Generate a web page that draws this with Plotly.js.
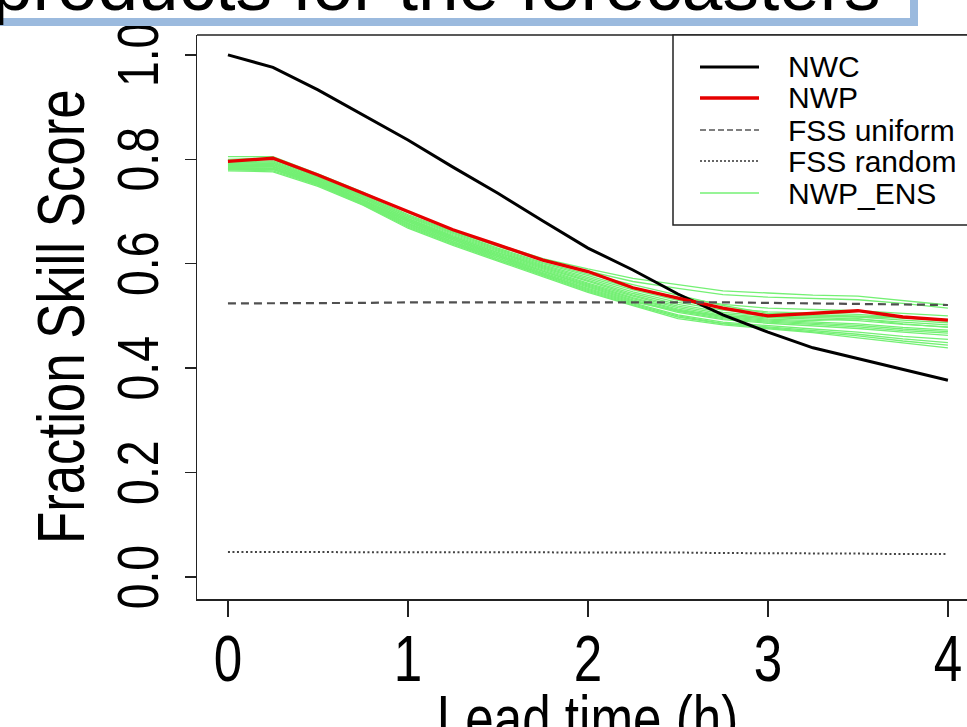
<!DOCTYPE html>
<html>
<head>
<meta charset="utf-8">
<script src="https://cdn.plot.ly/plotly-3.0.1.min.js"></script>
<style>html,body{margin:0;padding:0;background:#fff;}#chart{width:967px;height:727px;}</style>
</head>
<body>
<div id="chart"></div>
<script>
// ---------------- data ----------------
const leadTime = [0,0.25,0.5,0.75,1,1.25,1.5,1.75,2,2.25,2.5,2.75,3,3.25,3.5,3.75,4];
const nwc = [1.000,0.976,0.933,0.885,0.837,0.785,0.735,0.682,0.630,0.588,0.542,0.502,0.469,0.439,0.418,0.397,0.377];
const nwp = [0.796,0.802,0.770,0.735,0.700,0.665,0.636,0.607,0.585,0.554,0.534,0.515,0.500,0.505,0.510,0.498,0.492];
const fssUniform = [0.524,0.524,0.525,0.525,0.526,0.526,0.527,0.527,0.527,0.527,0.526,0.526,0.525,0.524,0.523,0.522,0.521];
const fssRandom = [0.048,0.048,0.048,0.048,0.048,0.048,0.048,0.048,0.047,0.047,0.047,0.046,0.046,0.045,0.045,0.044,0.044];

const ens01 = [0.805,0.805,0.772,0.737,0.698,0.665,0.637,0.610,0.590,0.572,0.560,0.548,0.544,0.540,0.538,0.530,0.521];
const ens02 = [0.800,0.803,0.768,0.733,0.694,0.662,0.633,0.606,0.586,0.566,0.553,0.541,0.536,0.533,0.531,0.524,0.515];
const ens03 = [0.798,0.800,0.766,0.731,0.692,0.660,0.630,0.602,0.580,0.560,0.540,0.520,0.505,0.502,0.500,0.497,0.490];
const ens04 = [0.795,0.797,0.765,0.729,0.690,0.658,0.628,0.600,0.577,0.553,0.536,0.522,0.515,0.512,0.510,0.505,0.500];
const ens05 = [0.793,0.795,0.763,0.728,0.689,0.656,0.626,0.598,0.574,0.550,0.530,0.515,0.508,0.506,0.503,0.497,0.492];
const ens06 = [0.792,0.793,0.762,0.726,0.687,0.654,0.624,0.596,0.571,0.546,0.526,0.511,0.503,0.501,0.498,0.492,0.487];
const ens07 = [0.790,0.792,0.760,0.725,0.686,0.652,0.622,0.594,0.568,0.543,0.522,0.507,0.500,0.497,0.494,0.488,0.483];
const ens08 = [0.789,0.790,0.759,0.723,0.684,0.651,0.621,0.592,0.566,0.540,0.519,0.504,0.497,0.494,0.491,0.484,0.479];
const ens09 = [0.788,0.789,0.758,0.722,0.683,0.649,0.619,0.590,0.563,0.538,0.516,0.501,0.494,0.491,0.495,0.485,0.478];
const ens10 = [0.787,0.787,0.757,0.721,0.681,0.648,0.617,0.588,0.561,0.535,0.513,0.499,0.492,0.489,0.485,0.478,0.473];
const ens11 = [0.786,0.786,0.756,0.720,0.680,0.646,0.616,0.586,0.559,0.533,0.511,0.497,0.490,0.486,0.482,0.475,0.470];
const ens12 = [0.785,0.785,0.755,0.719,0.678,0.645,0.614,0.585,0.557,0.531,0.509,0.495,0.488,0.484,0.479,0.472,0.467];
const ens13 = [0.784,0.783,0.754,0.717,0.677,0.643,0.613,0.583,0.555,0.529,0.507,0.493,0.486,0.481,0.476,0.469,0.463];
const ens14 = [0.783,0.782,0.753,0.716,0.676,0.642,0.611,0.581,0.553,0.527,0.510,0.500,0.497,0.498,0.499,0.496,0.493];
const ens15 = [0.782,0.781,0.752,0.715,0.674,0.640,0.610,0.580,0.551,0.525,0.502,0.488,0.481,0.475,0.469,0.461,0.455];
const ens16 = [0.781,0.780,0.751,0.714,0.672,0.639,0.608,0.578,0.549,0.523,0.500,0.486,0.479,0.472,0.465,0.456,0.449];
const ens17 = [0.780,0.778,0.750,0.713,0.670,0.637,0.607,0.577,0.547,0.521,0.498,0.485,0.477,0.470,0.462,0.452,0.444];
const ens18 = [0.778,0.776,0.748,0.712,0.668,0.635,0.605,0.575,0.545,0.520,0.495,0.483,0.475,0.468,0.458,0.448,0.439];
const ensembleMembers = [ens01,ens02,ens03,ens04,ens05,ens06,ens07,ens08,ens09,ens10,ens11,ens12,ens13,ens14,ens15,ens16,ens17,ens18];

const xTickVals = [0,1,2,3,4];
const xTickText = ['0','1','2','3','4'];
const yTickVals = [0,0.2,0.4,0.6,0.8,1.0];
const yTickText = ['0.0','0.2','0.4','0.6','0.8','1.0'];
const legendLabels = ['NWC','NWP','FSS uniform','FSS random','NWP_ENS'];
const titleText = 'products for the forecasters';
const xTitle = 'Lead time (h)';
const yTitle = 'Fraction Skill Score';

// ---------------- styling / layout helpers ----------------
const FONT = 'Liberation Sans, Arial, Helvetica, sans-serif';
const NARROW_SCALE = 0.8;   // emulate a narrow (condensed) Helvetica for axis text
const W = 967, H = 727;
const PL = 197, PR = 967, PT = 35, PB = 599;
const px = v => (v - PL) / (PR - PL);
const py = v => (PB - v) / (PB - PT);

const GREEN = '#74f074';
const traces = [];
ensembleMembers.forEach(m => traces.push({x: leadTime, y: m, type: 'scatter', mode: 'lines',
  line: {color: GREEN, width: 1.3}, showlegend: false, hoverinfo: 'skip'}));
traces.push({x: leadTime, y: nwc, type: 'scatter', mode: 'lines', name: legendLabels[0],
  line: {color: '#000000', width: 3}, showlegend: false});
traces.push({x: leadTime, y: nwp, type: 'scatter', mode: 'lines', name: legendLabels[1],
  line: {color: '#e60000', width: 3.3}, showlegend: false});
traces.push({x: leadTime, y: fssUniform, type: 'scatter', mode: 'lines', name: legendLabels[2],
  line: {color: '#505050', width: 2.2, dash: '8px,5px'}, showlegend: false});
traces.push({x: leadTime, y: fssRandom, type: 'scatter', mode: 'lines', name: legendLabels[3],
  line: {color: '#444444', width: 2, dash: '2px,2.5px'}, showlegend: false});

const legendStyles = [
  {color: '#000000', width: 3, dash: 'solid'},
  {color: '#e60000', width: 3.3, dash: 'solid'},
  {color: '#555555', width: 1.5, dash: '6px,3px'},
  {color: '#333333', width: 1.5, dash: '2px,2px'},
  {color: GREEN, width: 1.5, dash: 'solid'}
];
const legendRowsY = [67, 98, 130, 161, 193];

const shapes = [
  {type: 'line', xref: 'paper', yref: 'paper', x0: 0, x1: px(1000), y0: 1, y1: 1,
   line: {color: '#222', width: 1.5}, layer: 'above'},
  {type: 'rect', xref: 'paper', yref: 'paper', x0: px(673), x1: px(1010), y0: py(225), y1: 1,
   line: {color: '#222', width: 1.5}, fillcolor: '#ffffff', layer: 'above'},
  {type: 'rect', xref: 'paper', yref: 'paper', x0: px(-20), x1: px(914), y0: py(22), y1: py(-120),
   line: {color: '#9bbade', width: 8}, fillcolor: 'rgba(0,0,0,0)', layer: 'above'}
];
legendRowsY.forEach((yy, i) => shapes.push({type: 'line', xref: 'paper', yref: 'paper',
  x0: px(700), x1: px(759), y0: py(yy), y1: py(yy), line: legendStyles[i], layer: 'above'}));

const annotations = [
  {text: titleText, xref: 'paper', yref: 'paper', x: px(-10), y: py(-15), xanchor: 'left', yanchor: 'middle',
   showarrow: false, font: {family: FONT, size: 73, color: '#000'}},
  {text: xTitle, xref: 'x', yref: 'paper', x: 2, y: py(681), xanchor: 'center', yanchor: 'top',
   showarrow: false, font: {family: FONT, size: 64, color: '#000'}},
  {text: yTitle, xref: 'paper', yref: 'paper', x: px(61), y: 0.5, xanchor: 'center', yanchor: 'middle',
   textangle: -90, showarrow: false, font: {family: FONT, size: 66, color: '#000'}}
];
legendLabels.forEach((lab, i) => annotations.push({text: lab, xref: 'paper', yref: 'paper',
  x: px(786), y: py(legendRowsY[i]), xanchor: 'left', yanchor: 'middle', showarrow: false,
  font: {family: FONT, size: 30, color: '#000'}}));

const layout = {
  width: W, height: H,
  margin: {l: PL, r: W - PR, t: PT, b: H - PB, pad: 0},
  paper_bgcolor: '#ffffff', plot_bgcolor: '#ffffff',
  showlegend: false,
  xaxis: {range: [-0.172, 4.106], showgrid: false, zeroline: false, showline: true,
    linecolor: '#222', linewidth: 1.5, ticks: 'outside', ticklen: 16, tickwidth: 1.5, tickcolor: '#222',
    tickmode: 'array', tickvals: xTickVals, ticktext: xTickText, ticklabelstandoff: -12,
    tickfont: {family: FONT, size: 64, color: '#000'}},
  yaxis: {range: [-0.042, 1.038], showgrid: false, zeroline: false, showline: true,
    linecolor: '#222', linewidth: 1.5, ticks: 'outside', ticklen: 11, tickwidth: 1.5, tickcolor: '#222',
    tickmode: 'array', tickvals: yTickVals, ticktext: yTickText, tickangle: -90, ticklabelstandoff: 3,
    tickfont: {family: FONT, size: 58, color: '#000'}},
  shapes: shapes,
  annotations: annotations
};

// condense a text element along its own reading direction, about its own centre
function condense(t, s) {
  const b = t.getBBox();
  const cx = b.x + b.width / 2, cy = b.y + b.height / 2;
  const prev = t.getAttribute('transform') || '';
  t.setAttribute('transform', prev + ' translate(' + cx + ',' + cy + ') scale(' + s + ',1) translate(' + (-cx) + ',' + (-cy) + ')');
}

Plotly.newPlot('chart', traces, layout, {displayModeBar: false, staticPlot: true}).then(gd => {
  gd.querySelectorAll('.xtick text, .ytick text').forEach(t => condense(t, NARROW_SCALE));
  gd.querySelectorAll('.annotation-text').forEach(t => {
    if (t.textContent === xTitle || t.textContent === yTitle) condense(t, NARROW_SCALE);
  });
  // centre each rotated y tick label exactly on its tick, as R does
  const fl = gd._fullLayout;
  const gRect = gd.getBoundingClientRect();
  gd.querySelectorAll('.ytick text').forEach(t => {
    const d = t.__data__;
    if (!d || d.x === undefined) return;
    const expected = fl._size.t + fl.yaxis.l2p(d.x);
    const r = t.getBoundingClientRect();
    const actual = r.top + r.height / 2 - gRect.top;
    const shift = expected - actual;
    t.setAttribute('transform', 'translate(0,' + shift + ') ' + (t.getAttribute('transform') || ''));
  });
});
</script>
</body>
</html>
